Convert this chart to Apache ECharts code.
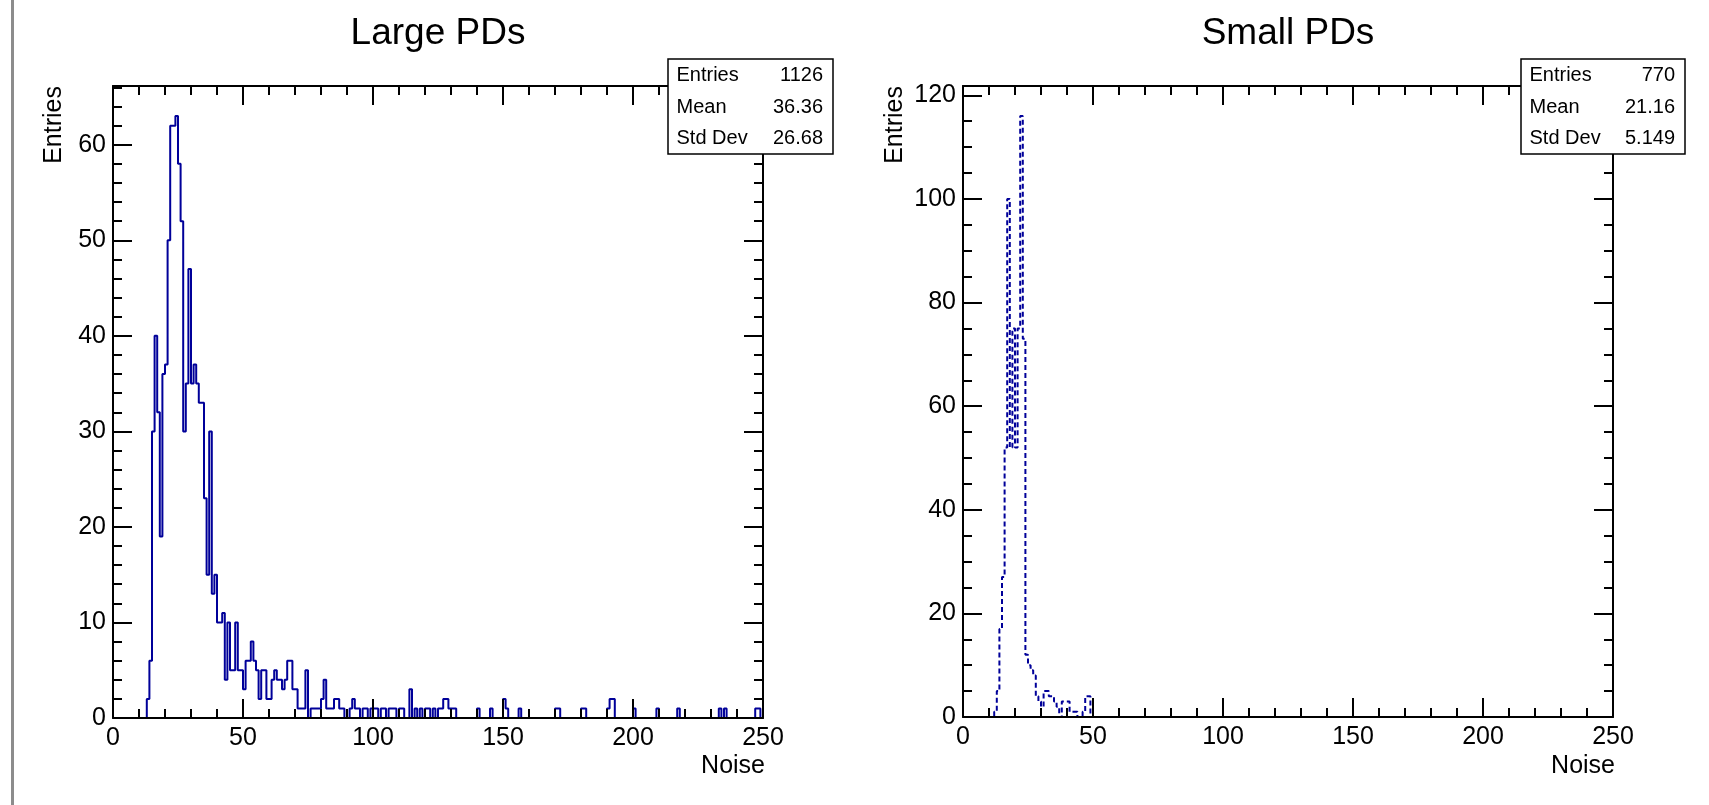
<!DOCTYPE html>
<html><head><meta charset="utf-8">
<script src="https://cdn.jsdelivr.net/npm/echarts@6/dist/echarts.min.js"></script>
<style>html,body{margin:0;padding:0;background:#fff}#c{width:1709px;height:805px}</style>
</head><body><div id="c"></div>
<script>
// ---------------- data ----------------
const BINS = 250;               // bins of width 1 from 0 to 250
const largeFirstBin = 13;
const largeCounts = [
 2,6,30,40,32,19,36,37,50,62,   // 13-22
 62,63,58,52,30,35,47,35,37,35, // 23-32
 33,33,23,15,30,13,15,10,       // 33-40
 10,11,4,10,5,5,10,5,5,3,       // 41-50
 6,6,8,6,5,2,5,5,2,2,           // 51-60
 4,5,4,4,3,4,6,6,3,3,           // 61-70
 1,1,1,5,0,1,1,1,1,2,           // 71-80
 4,1,1,1,2,2,1,1,0,0,           // 81-90
 1,2,1,1,0,1,1,0,1,1,           // 91-100
 1,0,1,1,0,1,1,1,0,1,           // 101-110
 1,0,0,3,0,1,0,1,0,1,           // 111-120
 1,0,1,0,1,1,2,2,1,1,           // 121-130
 1,0,0,0,0,0,0,0,0,1,           // 131-140
 0,0,0,0,1,0,0,0,0,2,           // 141-150
 1,0,0,0,0,1,0,0,0,0,           // 151-160
 0,0,0,0,0,0,0,0,0,1,           // 161-170
 1,0,0,0,0,0,0,0,0,1,           // 171-180
 1,0,0,0,0,0,0,0,0,1,           // 181-190
 2,2,0,0,0,0,0,0,0,1,           // 191-200
 0,0,0,0,0,0,0,0,1,0,           // 201-210
 0,0,0,0,0,0,1,0,0,0,           // 211-220
 0,0,0,0,0,0,0,0,0,0,           // 221-230
 0,0,1,0,1,0,0,0,0,0,           // 231-240
 0,0,0,0,0,0,1,1,0              // 241-249
];
const smallFirstBin = 12;
const smallCounts = [
 1,5,17,27,52,100,52,75,52,75,  // 12-21
 116,73,12,10,9,8,4,3,2,5,      // 22-31
 5,4,4,3,2,0,3,3,3,1,           // 32-41
 1,1,0,0,1,4,4                  // 42-48
];
const titles = ['Large PDs', 'Small PDs'];
const xTitle = 'Noise';
const yTitle = 'Entries';
const statLabels = ['Entries', 'Mean', 'Std Dev'];
const largeStats = ['1126', '36.36', '26.68'];
const smallStats = ['770', '21.16', '5.149'];
const xMajor = [0, 50, 100, 150, 200, 250];
const xMinor = [10,20,30,40,60,70,80,90,110,120,130,140,160,170,180,190,210,220,230,240];
const largeYMajor = [0, 10, 20, 30, 40, 50, 60];
const largeYMinor = [2,4,6,8,12,14,16,18,22,24,26,28,32,34,36,38,42,44,46,48,52,54,56,58,62,64,66];
const smallYMajor = [0, 20, 40, 60, 80, 100, 120];
const smallYMinor = [5,10,15,25,30,35,45,50,55,65,70,75,85,90,95,105,110,115];
const largeYMax = 66.15;   // 1.05 * max bin
const smallYMax = 121.8;

// ---------------- build ----------------
function histPoints(first, counts) {
  const full = new Array(BINS).fill(0);
  counts.forEach((c, k) => { full[first + k] = c; });
  const pts = full.map((v, i) => [i, v]);
  pts.push([BINS, full[BINS - 1]]);
  return pts;
}
const FONT = '"Liberation Sans", Arial, Helvetica, sans-serif';
const LINE = '#000099';
const grids = [
  {left: 113, top: 86, width: 650, height: 632},
  {left: 963, top: 86, width: 650, height: 631}
];
const xAxes = [], yAxes = [];
function addAxes(g, yMax, yMaj, yMin) {
  const common = {gridIndex: g, type: 'value', splitLine: {show: false}, z: 5};
  const line = {show: true, onZero: false, lineStyle: {color: '#000', width: 2}};
  const noLine = {show: false, onZero: false};
  const lbl = {show: true, fontSize: 25, color: '#000', fontFamily: FONT};
  const tick = (len, vals) => ({show: true, inside: true, length: len, customValues: vals, lineStyle: {color: '#000', width: 2}});
  // x: bottom major (labels), bottom minor, top major, top minor
  xAxes.push(Object.assign({}, common, {position: 'bottom', min: 0, max: 250, axisLine: line,
    axisTick: tick(19, xMajor), axisLabel: Object.assign({}, lbl, {customValues: xMajor, margin: 8})}));
  xAxes.push(Object.assign({}, common, {position: 'bottom', min: 0, max: 250, axisLine: noLine,
    axisTick: tick(9, xMinor), axisLabel: {show: false}}));
  xAxes.push(Object.assign({}, common, {position: 'top', min: 0, max: 250, axisLine: line,
    axisTick: tick(19, xMajor), axisLabel: {show: false}}));
  xAxes.push(Object.assign({}, common, {position: 'top', min: 0, max: 250, axisLine: noLine,
    axisTick: tick(9, xMinor), axisLabel: {show: false}}));
  // y: left major (labels), left minor, right major, right minor
  yAxes.push(Object.assign({}, common, {position: 'left', min: 0, max: yMax, axisLine: line,
    axisTick: tick(19, yMaj), axisLabel: Object.assign({}, lbl, {customValues: yMaj, margin: 7})}));
  yAxes.push(Object.assign({}, common, {position: 'left', min: 0, max: yMax, axisLine: noLine,
    axisTick: tick(9, yMin), axisLabel: {show: false}}));
  yAxes.push(Object.assign({}, common, {position: 'right', min: 0, max: yMax, axisLine: line,
    axisTick: tick(19, yMaj), axisLabel: {show: false}}));
  yAxes.push(Object.assign({}, common, {position: 'right', min: 0, max: yMax, axisLine: noLine,
    axisTick: tick(9, yMin), axisLabel: {show: false}}));
}
addAxes(0, largeYMax, largeYMajor, largeYMinor);
addAxes(1, smallYMax, smallYMajor, smallYMinor);

function txt(x, y, s, size, align, valign, rot) {
  return {type: 'text', x: x, y: y, rotation: rot || 0, z: 100, silent: true,
    style: {text: s, font: size + 'px ' + FONT, fontSize: size, fontFamily: FONT, fill: '#000',
      align: align, textAlign: align, verticalAlign: valign, textVerticalAlign: valign}};
}
function statBox(x, y, w, h, vals) {
  const els = [{type: 'rect', shape: {x: x, y: y, width: w, height: h}, z: 99, silent: true,
    style: {fill: '#fff', stroke: '#000', lineWidth: 1.5}}];
  const rows = [16.5, 48, 79.5];
  statLabels.forEach((s, k) => {
    els.push(txt(x + 8.5, y + rows[k], s, 20, 'left', 'middle'));
    els.push(txt(x + w - 10, y + rows[k], vals[k], 20, 'right', 'middle'));
  });
  return els;
}
const graphics = [
  {type: 'rect', shape: {x: 11, y: 0, width: 3, height: 805}, z: 100, silent: true, style: {fill: '#8c8c8c'}},
  txt(54, 86, yTitle, 25, 'right', 'middle', Math.PI / 2),
  txt(895, 86, yTitle, 25, 'right', 'middle', Math.PI / 2),
  txt(765, 766, xTitle, 25, 'right', 'middle'),
  txt(1615, 766, xTitle, 25, 'right', 'middle')
].concat(statBox(668, 59, 165, 95, largeStats), statBox(1521, 59, 164, 95, smallStats));

const chart = echarts.init(document.getElementById('c'), null, {renderer: 'canvas'});
chart.setOption({
  backgroundColor: '#fff',
  animation: false,
  title: titles.map((t, i) => ({text: t, left: grids[i].left + grids[i].width / 2, top: 15, textAlign: 'center', padding: 0,
    textStyle: {fontSize: 37, fontWeight: 'normal', fontFamily: FONT, color: '#000'}})),
  grid: grids.map(g => Object.assign({containLabel: false, outerBoundsMode: 'none'}, g)),
  xAxis: xAxes,
  yAxis: yAxes,
  series: [
    {type: 'line', xAxisIndex: 0, yAxisIndex: 0, step: 'end', symbol: 'none', z: 2,
      lineStyle: {color: LINE, width: 2}, data: histPoints(largeFirstBin, largeCounts)},
    {type: 'line', xAxisIndex: 4, yAxisIndex: 4, step: 'end', symbol: 'none', z: 2,
      lineStyle: {color: LINE, width: 2, type: [5, 3]}, data: histPoints(smallFirstBin, smallCounts)}
  ],
  graphic: graphics
});
</script></body></html>
